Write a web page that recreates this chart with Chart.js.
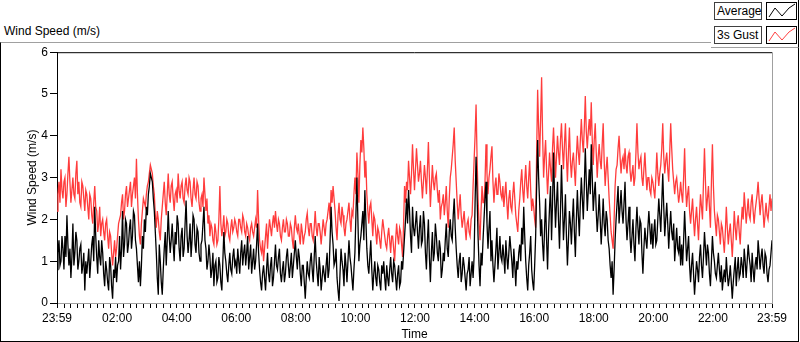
<!DOCTYPE html>
<html>
<head>
<meta charset="utf-8">
<script src="https://cdn.jsdelivr.net/npm/chart.js@4.4.1/dist/chart.umd.min.js"></script>
<style>
  html, body { margin:0; padding:0; background:#fff; }
  body { width:800px; height:342px; position:relative; overflow:hidden; font-family:'Liberation Sans', Arial, sans-serif; font-size:12px; color:#000; }
  #title { position:absolute; left:4px; top:24px; line-height:14px; white-space:nowrap; }
  #frame { position:absolute; left:0; top:42px; width:797px; height:298px; border-left:1px solid #000; border-right:1px solid #000; border-bottom:1px solid #000; border-top:1px solid #a0a0a0; }
  #frame canvas { display:block; }
  #legend { position:absolute; left:711px; top:0; width:87px; height:47px; background:#fff; border-right:1px solid #000; border-bottom:1px solid #a0a0a0; }
  .lrow { position:absolute; left:3px; height:16px; }
  .lname { position:absolute; left:0; top:0; height:16px; border:1px solid #404040; line-height:16px; padding-left:2px; box-sizing:content-box; white-space:nowrap; }
  .licon { position:absolute; left:52px; top:0; width:29px; height:16px; border:1px solid #000; }
</style>
</head>
<body>
<div id="title">Wind Speed (m/s)</div>
<div id="frame"><canvas id="c" width="797" height="298" style="width:797px;height:298px"></canvas></div>
<div id="legend">
  <div class="lrow" style="top:2px"><div class="lname" style="width:44px">Average</div><div class="licon"><svg width="29" height="16"><polyline points="2,14 8,5 15,13 22,5 28,1" fill="none" stroke="#000" stroke-width="1"/></svg></div></div>
  <div class="lrow" style="top:26px"><div class="lname" style="width:44px">3s Gust</div><div class="licon"><svg width="29" height="16"><polyline points="2,14 8,5 15,13 22,5 28,1" fill="none" stroke="#ff4040" stroke-width="1"/></svg></div></div>
</div>
<script>
// ---- data: 2-minute samples starting at 23:59 of the previous day (one row per hour) ----
const startMinute = -1;
const stepMinutes = 2;

const avgSpeed = [
  0.8,1.2,1.5,0.9,1.0,1.6,1.3,0.8,1.6,1.1,2.1,1.4,0.9,1.3,0.6,1.1,1.9,0.9,1.2,1.7,1.5,0.8,1.0,1.3,1.4,0.7,0.9,1.2,0.3,1.0,
  0.7,1.0,1.3,0.6,1.0,1.4,1.6,1.0,2.3,1.6,1.1,0.7,1.5,1.1,0.9,1.5,1.2,0.7,0.4,1.0,0.8,0.5,0.3,1.1,0.9,0.4,0.1,0.8,0.6,1.1,
  0.5,0.9,1.0,1.6,0.8,1.3,2.2,1.1,1.4,2.0,1.9,1.2,1.4,1.8,2.0,1.3,1.6,2.2,2.1,1.5,1.3,0.9,0.5,1.0,0.4,0.9,1.6,1.3,2.0,1.7,
  2.3,2.1,2.6,2.8,3.1,3.0,2.9,2.5,2.2,1.7,1.2,0.6,0.2,1.4,1.0,0.5,0.2,0.8,1.3,1.7,0.9,1.5,2.2,1.6,1.2,1.5,1.9,1.4,1.0,1.7,
  1.4,2.1,1.9,1.3,1.0,1.6,1.8,1.1,1.3,1.9,2.45,1.6,1.2,1.5,1.9,1.1,1.5,2.1,2.0,1.4,1.2,1.8,1.7,1.2,1.0,1.4,1.5,1.9,2.3,1.5,
  1.3,0.8,1.0,1.4,1.1,0.6,0.8,1.2,0.4,0.9,1.0,0.5,0.6,1.1,0.9,0.5,0.3,1.0,1.7,1.2,1.0,0.7,0.5,0.9,1.2,0.8,0.7,1.1,1.3,0.9,
  1.0,0.7,1.3,1.0,0.7,1.2,1.5,0.9,1.2,1.4,0.9,1.2,1.6,0.8,1.1,1.4,0.7,1.0,1.3,0.8,1.0,1.4,1.9,1.2,0.8,0.5,0.3,0.7,0.9,0.6,
  0.3,0.8,1.2,0.7,0.5,0.9,1.1,0.4,0.6,1.0,1.4,0.9,0.8,1.1,1.3,0.7,0.5,0.8,1.0,0.5,0.7,1.1,1.3,0.9,0.6,0.9,1.2,0.6,0.9,1.2,
  1.5,1.1,0.8,1.3,1.1,0.7,0.4,0.9,0.9,0.5,0.1,0.6,1.0,0.7,0.6,1.0,1.2,0.8,0.5,1.1,1.6,1.0,0.7,0.4,1.1,0.8,0.3,0.6,0.9,0.7,
  0.5,0.9,1.2,0.6,0.8,1.5,2.3,1.7,1.4,0.9,1.0,1.3,0.6,0.3,0.05,0.7,1.3,1.0,0.8,0.4,1.2,0.9,0.5,1.0,1.5,1.1,0.9,0.6,0.3,0.8,
  1.2,2.1,3.0,2.0,1.0,1.4,1.6,1.9,2.2,1.5,2.7,2.0,1.3,0.9,0.7,1.1,1.5,0.8,0.3,0.7,1.0,0.6,0.4,0.9,0.8,0.5,0.3,0.9,0.7,1.0,
  0.6,0.3,0.9,0.6,0.4,0.8,1.1,0.7,0.5,1.0,0.9,0.6,0.3,0.7,0.9,0.4,0.5,1.0,0.8,1.2,1.6,2.0,2.5,1.9,2.7,2.2,1.6,1.2,2.3,1.8,
  1.6,1.9,2.2,1.7,1.3,1.8,2.1,1.4,1.5,2.2,1.9,1.2,0.8,1.5,2.0,1.1,0.5,1.2,1.7,1.0,1.2,1.9,1.6,1.2,1.0,1.5,1.3,0.6,0.8,1.2,
  1.0,1.5,1.9,1.3,1.1,1.7,2.0,1.6,1.5,2.1,2.5,1.8,1.3,0.9,0.6,1.0,1.2,0.5,0.7,1.1,0.9,0.6,0.3,0.7,0.8,1.1,0.4,0.7,1.0,0.6,
  1.1,2.4,3.5,2.6,1.6,0.9,0.4,1.2,0.9,1.5,2.0,2.5,2.9,1.9,1.3,1.8,2.2,1.0,1.5,0.9,0.5,0.9,1.3,1.8,0.8,1.2,1.6,1.1,1.0,1.4,
  1.1,0.7,1.5,1.1,0.8,1.2,1.6,1.3,1.0,0.6,1.3,0.9,0.4,1.0,0.8,1.2,1.4,1.0,1.8,1.4,2.3,1.6,1.0,0.6,0.3,0.9,1.2,1.6,0.8,0.5,
  0.3,0.9,1.6,2.8,3.9,3.0,2.4,1.6,2.0,1.4,1.0,1.8,2.5,1.5,0.8,1.7,2.3,2.8,1.5,2.4,3.6,2.6,1.8,2.4,2.9,2.0,1.3,2.2,3.3,2.4,
  1.5,2.0,2.6,1.6,0.9,1.5,2.2,1.9,1.4,2.0,2.5,1.7,1.1,2.0,2.7,2.1,1.6,2.4,3.0,2.5,2.0,2.8,3.7,2.9,2.2,2.7,3.2,2.6,3.8,3.0,
  2.2,2.6,2.9,2.2,1.7,2.1,2.6,2.0,1.4,1.9,2.5,1.9,1.6,2.2,2.0,1.5,1.3,0.9,0.6,1.0,0.2,0.8,1.5,2.0,2.4,2.8,1.9,2.3,2.7,2.2,
  1.9,2.4,2.9,2.0,1.5,1.9,2.3,1.6,1.2,1.6,2.0,1.4,1.0,1.8,2.3,1.8,1.4,2.0,1.9,1.2,0.7,1.3,1.8,1.5,1.3,1.8,2.2,1.8,1.4,1.9,
  1.3,1.7,2.0,1.4,1.5,2.0,2.5,2.1,1.7,2.4,3.1,2.3,1.6,2.0,2.4,1.9,1.3,1.8,2.2,1.7,1.5,1.9,1.0,1.4,1.8,1.3,1.2,1.6,0.9,1.4,
  0.9,1.5,2.2,1.6,1.0,1.3,1.6,0.9,0.5,0.9,1.2,0.7,0.2,0.6,1.0,0.8,0.5,1.1,1.4,0.9,0.6,1.1,1.7,1.3,0.9,1.4,1.2,0.7,0.4,1.0,
  1.6,1.2,1.0,0.7,0.6,0.9,1.2,0.8,0.5,0.9,0.3,0.6,0.8,0.5,1.1,0.7,0.4,0.6,0.9,0.5,0.1,0.5,0.8,1.1,0.4,0.8,1.1,0.6,0.7,1.1,
  0.9,0.6,1.3,1.0,0.6,1.0,1.4,1.1,0.9,0.5,1.2,0.8,0.5,0.9,1.1,0.8,1.5,1.2,0.8,1.1,1.3,0.9,0.7,1.2,1.1,0.7,0.5,0.8,0.9,1.2,1.5
];

const gustSpeed = [
  2.2,2.6,2.9,2.4,3.2,2.7,2.5,2.9,3.0,2.3,2.6,3.1,3.5,2.9,2.4,2.7,3.0,2.6,2.5,3.1,3.4,2.6,2.9,2.4,2.3,2.9,2.8,2.5,2.2,2.7,
  2.6,2.3,2.0,2.6,2.5,2.1,1.9,2.4,2.8,2.3,2.2,1.7,1.9,2.3,1.6,1.9,2.0,1.7,1.5,1.9,2.0,1.6,1.3,1.7,1.6,1.2,0.9,1.2,1.5,1.1,
  1.3,1.6,1.9,2.0,2.1,2.4,2.6,2.0,2.2,2.6,2.8,2.3,2.5,2.7,2.9,2.3,2.6,2.8,3.0,2.5,3.45,2.6,2.0,1.6,1.4,1.9,2.2,2.5,2.4,2.3,
  2.6,2.8,2.9,3.1,3.3,3.2,3.1,2.8,2.6,2.1,1.8,2.2,2.0,1.7,1.5,2.0,2.3,2.6,2.9,2.4,2.1,2.6,3.1,2.6,2.4,2.8,2.9,2.5,2.2,2.6,
  2.7,2.4,3.1,2.7,2.5,2.8,2.9,2.5,2.4,2.8,3.0,2.7,2.6,3.0,2.9,2.5,2.3,2.7,3.0,2.6,2.5,2.9,2.8,2.4,2.2,2.5,2.6,2.3,3.0,2.6,
  2.2,2.5,1.9,2.1,1.6,1.9,1.8,1.5,1.4,1.9,1.7,1.4,1.5,2.0,2.8,1.9,1.6,1.8,2.1,1.6,1.7,2.0,1.9,1.6,1.5,1.8,2.0,1.7,1.8,2.0,
  1.9,1.7,1.6,2.0,2.0,1.8,1.7,2.1,2.0,1.7,1.6,1.9,1.8,1.6,1.5,1.8,1.9,1.7,1.6,1.8,2.0,1.8,2.7,2.0,1.5,1.3,1.2,1.5,1.0,1.3,
  1.6,1.9,1.3,1.7,2.0,1.8,1.6,1.9,2.1,1.8,2.2,1.9,1.7,2.0,1.9,1.6,1.5,1.8,2.0,1.7,1.7,2.0,1.9,1.6,1.6,1.9,1.8,1.5,1.3,1.8,
  2.1,1.8,1.7,1.9,1.6,1.4,1.9,1.7,1.4,1.6,1.7,2.0,2.15,1.8,1.6,1.9,1.9,1.6,1.5,1.8,2.2,1.8,1.6,1.9,1.9,1.7,1.4,1.7,2.0,1.8,
  1.6,1.9,2.0,2.2,2.4,2.0,2.7,2.4,2.8,2.5,2.2,1.8,1.5,2.1,2.4,2.0,1.9,2.3,2.1,1.8,1.6,1.9,2.0,2.2,2.4,2.0,1.7,2.2,2.1,2.6,
  3.0,2.6,3.6,3.1,2.4,3.3,3.9,3.6,4.2,3.7,3.0,3.4,2.6,2.2,1.9,2.3,2.4,2.0,1.6,2.1,2.0,1.7,1.4,1.8,1.7,1.5,1.3,1.7,2.0,1.8,
  1.6,1.4,1.3,1.6,1.8,1.5,1.2,1.6,1.6,1.3,1.0,1.5,1.9,1.6,1.4,1.8,1.7,1.4,1.1,1.9,2.8,2.4,2.9,2.7,3.4,3.0,2.6,3.1,3.8,3.2,
  2.7,3.2,3.7,3.3,2.9,3.1,3.4,2.9,2.5,2.9,3.3,3.0,2.6,3.2,3.85,3.0,2.3,2.8,3.3,2.9,2.7,3.0,3.1,2.7,2.4,2.7,2.0,2.3,2.4,2.6,
  2.1,2.4,2.8,2.2,1.8,2.5,3.0,3.2,3.5,3.8,4.2,3.4,2.9,2.4,2.0,2.3,2.6,2.1,1.8,2.0,2.2,1.8,1.5,1.9,2.0,1.7,1.6,2.0,2.1,2.8,
  3.4,4.0,4.75,3.5,2.5,1.9,1.5,2.2,2.8,2.4,2.4,2.9,3.8,3.1,2.6,3.0,3.2,3.5,3.75,2.9,2.4,2.8,3.0,2.6,2.6,3.1,2.9,2.6,2.5,2.8,
  2.3,2.6,2.9,2.4,2.0,2.5,2.7,2.3,2.2,2.6,2.9,2.5,2.1,1.9,1.7,2.2,2.5,2.9,3.2,2.7,2.4,2.9,3.3,2.8,2.5,3.0,3.4,2.7,2.2,2.5,
  2.3,2.0,1.8,3.6,5.1,4.2,3.5,4.4,5.4,4.0,3.0,3.5,3.9,3.2,2.6,3.1,3.6,3.2,2.9,3.7,4.2,3.6,3.0,3.5,4.0,3.6,3.3,3.9,4.3,3.7,
  3.2,3.8,4.3,3.5,2.9,3.6,4.2,3.4,3.0,3.4,3.6,3.2,2.8,3.5,4.0,3.6,3.3,3.9,4.4,3.9,3.6,4.2,4.95,4.1,3.7,4.1,4.4,4.0,4.8,3.9,
  3.3,3.9,4.3,3.6,3.0,3.5,3.8,3.4,3.2,3.8,4.3,3.4,2.8,3.2,3.5,3.0,2.5,2.1,1.7,1.5,1.3,2.0,2.8,3.2,3.3,3.7,4.0,3.5,3.1,3.4,
  3.5,3.2,3.7,3.3,3.1,3.5,3.6,3.2,2.9,3.1,3.3,2.8,3.0,3.6,4.3,3.6,3.2,3.4,3.5,3.0,2.8,3.2,3.6,3.1,2.7,3.0,3.0,2.7,2.6,3.0,
  2.9,2.7,2.5,3.0,3.6,3.1,2.8,3.1,3.3,3.7,4.3,3.5,3.1,3.4,3.6,3.2,2.9,3.6,4.3,3.7,3.2,2.9,2.6,2.9,3.0,2.7,2.4,2.6,2.9,2.6,
  2.4,3.0,3.7,2.8,2.3,2.6,2.8,2.2,1.9,2.2,2.5,2.0,1.6,2.0,2.3,1.9,1.5,2.1,2.6,2.3,2.0,2.9,3.7,2.9,2.2,2.5,2.8,2.3,1.8,2.9,
  3.8,2.8,2.2,1.9,1.6,2.1,2.0,1.7,1.4,1.9,1.8,1.5,1.2,1.7,2.3,1.8,1.4,1.7,1.9,1.5,1.1,1.6,2.2,1.8,1.5,1.9,2.1,1.7,1.4,1.9,
  2.3,2.0,2.65,2.3,1.9,2.2,2.5,2.1,2.0,2.4,2.6,2.2,1.9,2.2,2.4,2.6,2.9,2.5,2.1,2.4,2.6,2.2,1.8,2.1,2.4,2.1,2.0,2.3,2.6,2.2,2.5
];

const majorTickMinutes = [-1,120,240,360,480,600,720,840,960,1080,1200,1320,1439];
const majorTickLabels = ['23:59','02:00','04:00','06:00','08:00','10:00','12:00','14:00','16:00','18:00','20:00','22:00','23:59'];
const yTickValues = [0,1,2,3,4,5,6];
const minorPerMajor = 9;

// ---- build ----
const times = avgSpeed.map((_, i) => startMinute + i * stepMinutes);
const toPoints = arr => arr.map((v, i) => ({ x: times[i], y: v }));

const xTickValues = [];
for (let k = 0; k < majorTickMinutes.length; k++) {
  xTickValues.push(majorTickMinutes[k]);
  if (k < majorTickMinutes.length - 1) {
    const a = majorTickMinutes[k], b = majorTickMinutes[k + 1];
    const step = 120 / minorPerMajor;
    if (k === 0) {
      for (let m = minorPerMajor - 1; m >= 1; m--) xTickValues.push(b - m * step);
    } else {
      for (let m = 1; m < minorPerMajor; m++) { const v = a + m * step; if (v < b - 1) xTickValues.push(v); }
    }
  }
}

const plotFrame = {
  id: 'plotFrame',
  afterDraw(chart) {
    const { ctx, chartArea: a } = chart;
    ctx.save();
    ctx.lineWidth = 1;
    ctx.strokeStyle = '#000';
    ctx.beginPath(); ctx.moveTo(a.left, a.top + 0.5); ctx.lineTo(a.right, a.top + 0.5); ctx.stroke();
    ctx.strokeStyle = '#a0a0a0';
    ctx.beginPath(); ctx.moveTo(a.right + 0.5, a.top); ctx.lineTo(a.right + 0.5, a.bottom); ctx.stroke();
    ctx.restore();
  }
};

Chart.defaults.font.family = "'Liberation Sans', Arial, sans-serif";
Chart.defaults.font.size = 12;
Chart.defaults.color = '#000';

new Chart(document.getElementById('c'), {
  type: 'line',
  data: {
    datasets: [
      { label: 'Average', data: toPoints(avgSpeed), borderColor: '#000000', borderWidth: 1.3, pointRadius: 0, tension: 0, order: 0 },
      { label: '3s Gust', data: toPoints(gustSpeed), borderColor: '#ff3c3c', borderWidth: 1.3, pointRadius: 0, tension: 0, order: 1 }
    ]
  },
  options: {
    responsive: false,
    animation: false,
    layout: { padding: { left: 0, top: 8, right: 26, bottom: 0 } },
    plugins: { legend: { display: false }, tooltip: { enabled: false } },
    scales: {
      x: {
        type: 'linear', min: -1, max: 1439,
        afterBuildTicks: s => { s.ticks = xTickValues.map(v => ({ value: v })); },
        afterFit: s => { s.height = 38; },
        ticks: {
          autoSkip: false, maxRotation: 0, minRotation: 0, padding: 3, color: '#000',
          callback: v => { const k = majorTickMinutes.indexOf(v); return k >= 0 ? majorTickLabels[k] : ''; }
        },
        grid: { drawOnChartArea: false, drawTicks: true, tickLength: 5, tickColor: '#000' },
        border: { color: '#a0a0a0' },
        title: { display: true, text: 'Time', color: '#000', padding: { top: 0, bottom: -1 } }
      },
      y: {
        min: 0, max: 6,
        afterBuildTicks: s => { s.ticks = yTickValues.map(v => ({ value: v })); },
        afterFit: s => { s.width = 56; },
        ticks: { color: '#000', padding: 2 },
        grid: { drawOnChartArea: false, tickLength: 7, tickColor: '#000' },
        border: { color: '#000' },
        title: { display: true, text: 'Wind Speed (m/s)', color: '#000', padding: { top: 24, bottom: 0 } }
      }
    }
  },
  plugins: [plotFrame]
});
</script>
</body>
</html>
